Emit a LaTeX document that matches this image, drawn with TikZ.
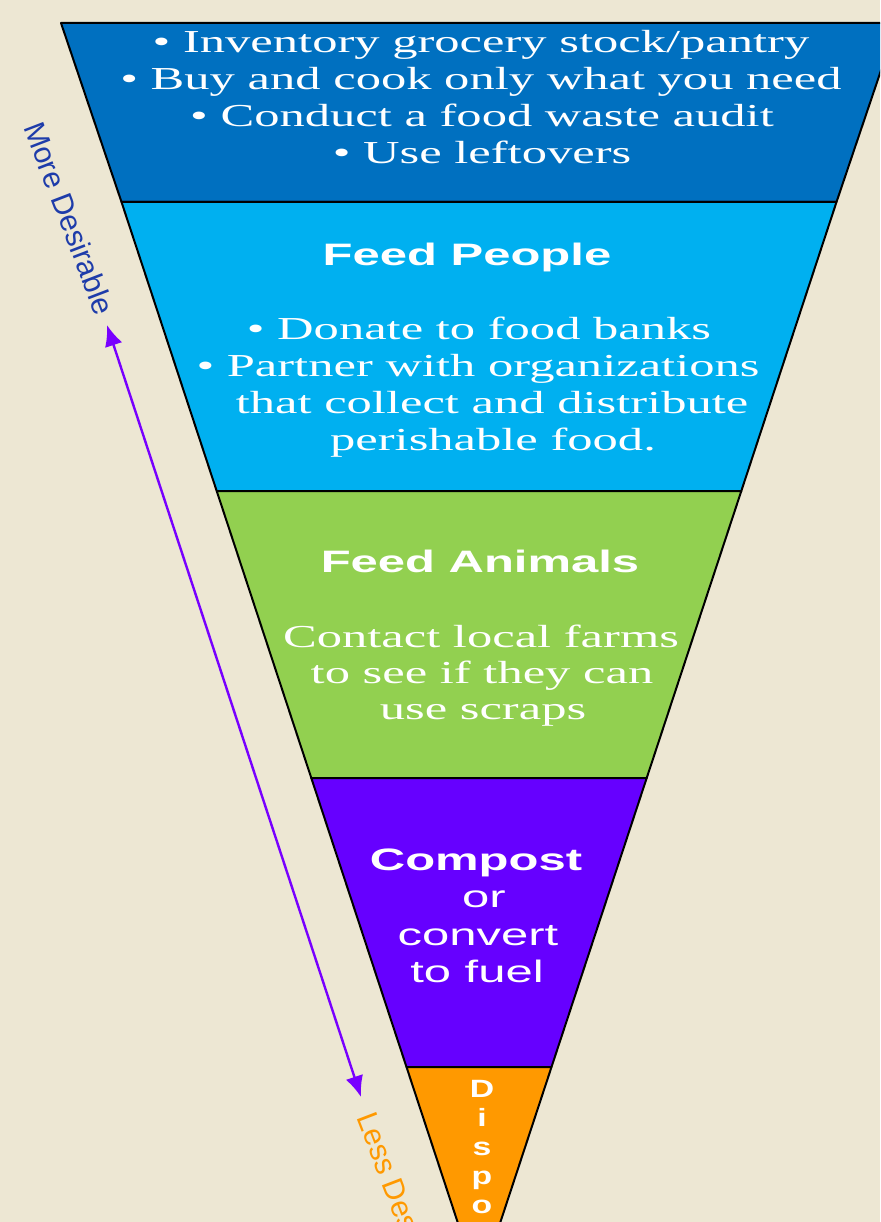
\documentclass[tikz,border=0pt]{standalone}
\usepackage{fontspec}
\usepackage{graphicx}
\setmainfont{Liberation Serif}
\newfontfamily\hsans{Liberation Sans}
\usetikzlibrary{arrows.meta}
\definecolor{bg}{RGB}{237,231,211}
\definecolor{layA}{RGB}{0,112,192}
\definecolor{layB}{RGB}{0,176,240}
\definecolor{layC}{RGB}{146,208,80}
\definecolor{layD}{RGB}{102,0,255}
\definecolor{layE}{RGB}{255,153,0}
\definecolor{arrowc}{RGB}{120,0,255}
\definecolor{moreblue}{RGB}{30,60,170}
\newcommand{\sx}{1.58}
\newcommand{\wide}[1]{\scalebox{\sx}[1]{#1}}
\newcommand{\dl}[1]{\scalebox{1.35}[1]{#1}}
\tikzset{
  layer/.style={draw=black, line width=2pt, line join=round},
  body/.style={text=white, font=\fontsize{32}{38}\selectfont, inner sep=0pt, anchor=base},
  head/.style={text=white, font=\hsans\bfseries\fontsize{31}{37}\selectfont, inner sep=0pt, anchor=base},
  plain/.style={text=white, font=\hsans\fontsize{31}{37}\selectfont, inner sep=0pt, anchor=base},
  sidelab/.style={font=\hsans\fontsize{30}{30}\selectfont, inner sep=0pt, anchor=west, rotate=-69},
  purpletip/.tip={Latex[length=21pt,width=18pt]}
}
\begin{document}
\begin{tikzpicture}[x=1pt,y=-1pt]
\useasboundingbox (0,0) rectangle (880,1222);
\clip (0,0) rectangle (880,1222);
\fill[bg] (0,0) rectangle (880,1222);
% funnel layers
\path[layer, fill=layA] (61,23) -- (897,23) -- (836.5,202) -- (121.5,202) -- cycle;
\path[layer, fill=layB] (121.5,202) -- (836.5,202) -- (741.3,491) -- (216.7,491) -- cycle;
\path[layer, fill=layC] (216.7,491) -- (741.3,491) -- (646.7,778) -- (311.3,778) -- cycle;
\path[layer, fill=layD] (311.3,778) -- (646.7,778) -- (551.5,1067) -- (406.5,1067) -- cycle;
\path[layer, fill=layE] (406.5,1067) -- (551.5,1067) -- (479,1287) -- cycle;
% layer 1 text
\node[body] (a1) at (481,53) {\wide{\textbullet\ Inventory grocery stock/pantry}};
\node[body] (a2) at (481,90) {\wide{\textbullet\ Buy and cook only what you need}};
\node[body] (a3) at (482,127) {\wide{\textbullet\ Conduct a food waste audit}};
\node[body] (a4) at (482,164) {\wide{\textbullet\ Use leftovers}};
% layer 2 text
\node[head] (b0) at (467,266) {\wide{Feed People}};
\node[body] (b1) at (479,339) {\wide{\textbullet\ Donate to food banks}};
\node[body] (b2) at (478,376) {\wide{\textbullet\ Partner with organizations}};
\node[body] (b3) at (492,413) {\wide{that collect and distribute}};
\node[body] (b4) at (493,450) {\wide{perishable food.}};
% layer 3 text
\node[head] (c0) at (480,572) {\wide{Feed Animals}};
\node[body] (c1) at (481,647) {\wide{Contact local farms}};
\node[body] (c2) at (482,683) {\wide{to see if they can}};
\node[body] (c3) at (483,719) {\wide{use scraps}};
% layer 4 text
\node[head] (d0) at (476,870) {\wide{Compost}};
\node[plain] (d1) at (484,907) {\wide{or}};
\node[plain] (d2) at (478,945) {\wide{convert}};
\node[plain] (d3) at (477,982) {\wide{to fuel}};
% layer 5 text
\node[text=white, inner sep=0pt, anchor=north, align=center,
      font=\hsans\bfseries\fontsize{25}{29}\selectfont] (e0) at (482,1080)
  {\dl{D}\\\dl{i}\\\dl{s}\\\dl{p}\\\dl{o}\\\dl{s}\\\dl{e}};
% side labels and arrow
\node[sidelab, text=moreblue] (more) at (33,123) {More Desirable};
\node[sidelab, text=layE] (less) at (366,1113) {Less Desirable};
\coordinate (atop) at (107,325);
\coordinate (abot) at (361,1097);
\draw[arrowc, line width=2.4pt, {purpletip}-{purpletip}] (atop) -- (abot);
\end{tikzpicture}
\end{document}
